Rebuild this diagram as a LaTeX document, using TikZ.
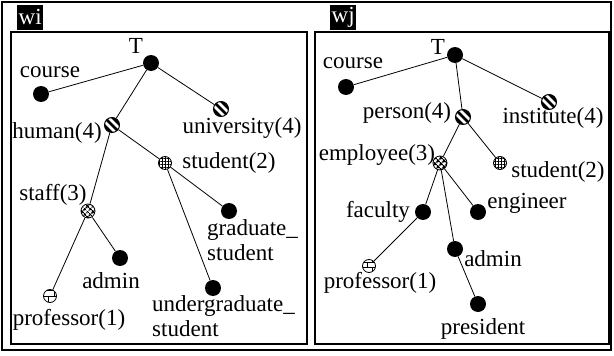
\documentclass[tikz,border=0pt]{standalone}
\usepackage{fontspec}
\setmainfont{Liberation Serif}
\usetikzlibrary{patterns,patterns.meta}

\tikzset{
  term/.style={circle, fill=black, minimum size=16pt, inner sep=0pt},
  striped/.style={circle, draw, fill=white, line width=1pt, minimum size=15pt, inner sep=0pt,
    path picture={
      \foreach \k in {-8,-4,0,4,8}
        \draw[line width=2.6pt] ([shift={(\k pt,\k pt)}]path picture bounding box.center)
          +(-12pt,12pt) -- +(12pt,-12pt);
    }},
  meshed/.style={circle, draw, line width=0.8pt, minimum size=13pt, inner sep=0pt,
    pattern={Hatch[angle=0, distance=3pt, line width=0.7pt]}},
  crossed/.style={circle, draw, line width=0.8pt, minimum size=14pt, inner sep=0pt,
    pattern={Hatch[angle=45, distance=4pt, line width=1.5pt]}},
  bricked/.style={circle, draw, line width=0.8pt, minimum size=13pt, inner sep=0pt,
    pattern=bricks},
  lbl/.style={font=\fontsize{23}{25}\selectfont, inner sep=0pt},
  tag/.style={lbl, fill=black, text=white, inner sep=1.5pt, minimum height=25pt, anchor=south west},
  edge/.style={line width=0.8pt},
  panel/.style={line width=2pt}
}

\begin{document}
\begin{tikzpicture}[x=1pt, y=-1pt]

  \useasboundingbox (0,0) rectangle (614,356);

  % Frames
  \draw[line width=1.5pt] (2,2) rectangle (611,350);
  \draw[panel] (11,32) rectangle (307,344);
  \draw[panel] (315,32) rectangle (609,344);

  % Titles
  \node[tag] (wi) at (17,30) {wi};
  \node[tag] (wj) at (330,30) {wj};

  % Left tree
  \node[term] (lT) at (151,63) {};
  \node[term] (lcourse) at (41,94) {};
  \node[striped] (luni) at (221,109) {};
  \node[striped] (lhuman) at (112,125) {};
  \node[meshed] (lstudent) at (165,163) {};
  \node[crossed] (lstaff) at (88,211) {};
  \node[term] (ladmin) at (120,258) {};
  \node[bricked] (lprof) at (50,296) {};
  \node[term] (lgrad) at (229,211) {};
  \node[term] (lunder) at (213,288) {};

  \draw[edge] (lT) -- (lcourse);
  \draw[edge] (lT) -- (lhuman);
  \draw[edge] (lT) -- (luni);
  \draw[edge] (lhuman) -- (lstaff);
  \draw[edge] (lhuman) -- (lstudent);
  \draw[edge] (lstaff) -- (ladmin);
  \draw[edge] (lstaff) -- (lprof);
  \draw[edge] (lstudent) -- (lgrad);
  \draw[edge] (lstudent) -- (lunder);

  \node[lbl] (lTt) at (136,46) {T};
  \node[lbl] (lcourset) at (50,72) {course};
  \node[lbl] (lunit) at (242,128) {university(4)};
  \node[lbl] (lhumant) at (57,133) {human(4)};
  \node[lbl] (lstudentt) at (229,163) {student(2)};
  \node[lbl] (lstafft) at (53,195) {staff(3)};
  \node[lbl] (ladmint) at (111,281) {admin};
  \node[lbl] (lproft) at (69,320) {professor(1)};
  \node[lbl, align=left, anchor=north west] (lgradt) at (207,219) {graduate\_\\student};
  \node[lbl, align=left, anchor=north west] (lundert) at (152,295) {undergraduate\_\\student};

  % Right tree
  \node[term] (rT) at (455,55) {};
  \node[term] (rcourse) at (346,87) {};
  \node[striped] (rinst) at (549,102) {};
  \node[striped] (rperson) at (463,117) {};
  \node[crossed] (remp) at (440,163) {};
  \node[meshed] (rstudent) at (500,163) {};
  \node[term] (rfaculty) at (423,212) {};
  \node[term] (rengineer) at (478,212) {};
  \node[term] (radmin) at (455,249) {};
  \node[bricked] (rprof) at (369,266) {};
  \node[term] (rpres) at (478,304) {};

  \draw[edge] (rT) -- (rcourse);
  \draw[edge] (rT) -- (rperson);
  \draw[edge] (rT) -- (rinst);
  \draw[edge] (rperson) -- (remp);
  \draw[edge] (rperson) -- (rstudent);
  \draw[edge] (remp) -- (rfaculty);
  \draw[edge] (remp) -- (rengineer);
  \draw[edge] (remp) -- (radmin);
  \draw[edge] (rfaculty) -- (rprof);
  \draw[edge] (radmin) -- (rpres);

  \node[lbl] (rTt) at (438,47) {T};
  \node[lbl] (rcourset) at (353,63) {course};
  \node[lbl] (rinstt) at (553,118) {institute(4)};
  \node[lbl] (rpersont) at (407,113) {person(4)};
  \node[lbl] (rempt) at (377,155) {employee(3)};
  \node[lbl] (rstudentt) at (558,172) {student(2)};
  \node[lbl] (rfacultyt) at (378,212) {faculty};
  \node[lbl] (rengineert) at (527,203) {engineer};
  \node[lbl] (radmint) at (493,259) {admin};
  \node[lbl] (rproft) at (380,283) {professor(1)};
  \node[lbl] (rprest) at (483,329) {president};

\end{tikzpicture}
\end{document}
